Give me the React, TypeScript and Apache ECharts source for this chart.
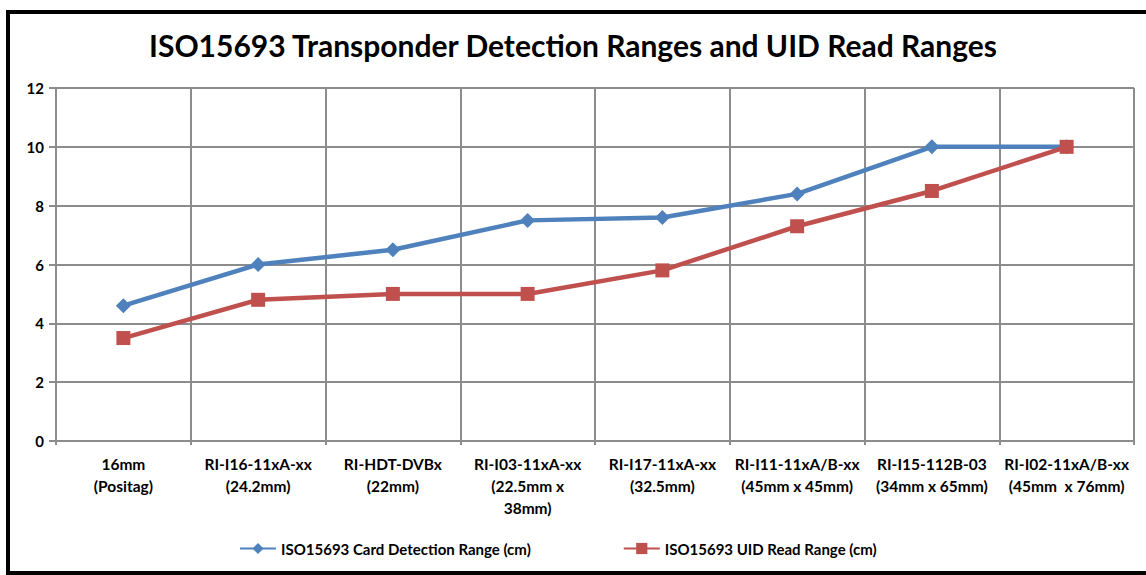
import React, { useEffect, useRef } from "react";
import * as echarts from "echarts";

const categories = [
  "16mm\n(Positag)",
  "RI-I16-11xA-xx\n(24.2mm)",
  "RI-HDT-DVBx\n(22mm)",
  "RI-I03-11xA-xx\n(22.5mm x\n38mm)",
  "RI-I17-11xA-xx\n(32.5mm)",
  "RI-I11-11xA/B-xx\n(45mm x 45mm)",
  "RI-I15-112B-03\n(34mm x 65mm)",
  "RI-I02-11xA/B-xx\n(45mm  x 76mm)",
];
const detectionRange = [4.6, 6.0, 6.5, 7.5, 7.6, 8.4, 10.0, 10.0];
const uidReadRange = [3.5, 4.8, 5.0, 5.0, 5.8, 7.3, 8.5, 10.0];
const seriesNames = [
  "ISO15693 Card Detection Range (cm)",
  "ISO15693 UID Read Range (cm)",
];
const titleText = "ISO15693 Transponder Detection Ranges and UID Read Ranges";

const FONT = "Lato, 'Open Sans', sans-serif";
const GRID = "#8c8c8c";

export default function App() {
  const ref = useRef<HTMLDivElement>(null);
  useEffect(() => {
    if (!ref.current) return;
    const chart = echarts.init(ref.current, null, { renderer: "svg" });
    chart.setOption({
      animation: false,
      backgroundColor: "#ffffff",
      textStyle: { fontFamily: FONT },
      title: {
        text: titleText,
        left: "center",
        top: 25,
        textStyle: {
          fontFamily: FONT,
          fontSize: 30,
          fontWeight: "bold",
          color: "#000",
        },
      },
      graphic: [
        {
          type: "rect",
          shape: { x: 8, y: 12, width: 1150, height: 561 },
          style: { fill: "none", stroke: "#000", lineWidth: 4 },
          silent: true,
        },
      ],
      legend: {
        top: 536,
        left: 234,
        itemWidth: 36,
        itemHeight: 14,
        itemGap: 92,
        textStyle: {
          fontFamily: FONT,
          fontSize: 15,
          fontWeight: "bold",
          color: "#000",
        },
        data: seriesNames,
      },
      grid: { left: 56, right: 12, top: 88, bottom: 134 },
      xAxis: {
        type: "category",
        data: categories,
        boundaryGap: true,
        axisLine: { show: true, lineStyle: { color: GRID, width: 2 } },
        axisTick: { show: true, length: 4, lineStyle: { color: GRID, width: 2 } },
        splitLine: { show: true, lineStyle: { color: GRID, width: 2 } },
        axisLabel: {
          interval: 0,
          margin: 12,
          fontFamily: FONT,
          fontSize: 15.5,
          fontWeight: "bold",
          color: "#000",
          lineHeight: 22,
          verticalAlign: "top",
        },
      },
      yAxis: {
        type: "value",
        min: 0,
        max: 12,
        interval: 2,
        axisLine: { show: true, lineStyle: { color: GRID, width: 2 } },
        axisTick: { show: true, length: 7, lineStyle: { color: GRID, width: 2 } },
        splitLine: { show: true, lineStyle: { color: GRID, width: 2 } },
        axisLabel: {
          margin: 12,
          fontFamily: FONT,
          fontSize: 15,
          fontWeight: "bold",
          color: "#000",
        },
      },
      series: [
        {
          name: seriesNames[0],
          type: "line",
          data: detectionRange,
          symbol: "diamond",
          symbolSize: 15,
          lineStyle: { color: "#4F81BD", width: 4.5 },
          itemStyle: { color: "#4F81BD" },
        },
        {
          name: seriesNames[1],
          type: "line",
          data: uidReadRange,
          symbol: "rect",
          symbolSize: 14,
          lineStyle: { color: "#C0504D", width: 4.5 },
          itemStyle: { color: "#C0504D" },
        },
      ],
    });
    return () => chart.dispose();
  }, []);
  return (
    <div
      ref={ref}
      style={{ position: "fixed", left: 0, top: 0, width: 1146, height: 575 }}
    />
  );
}
